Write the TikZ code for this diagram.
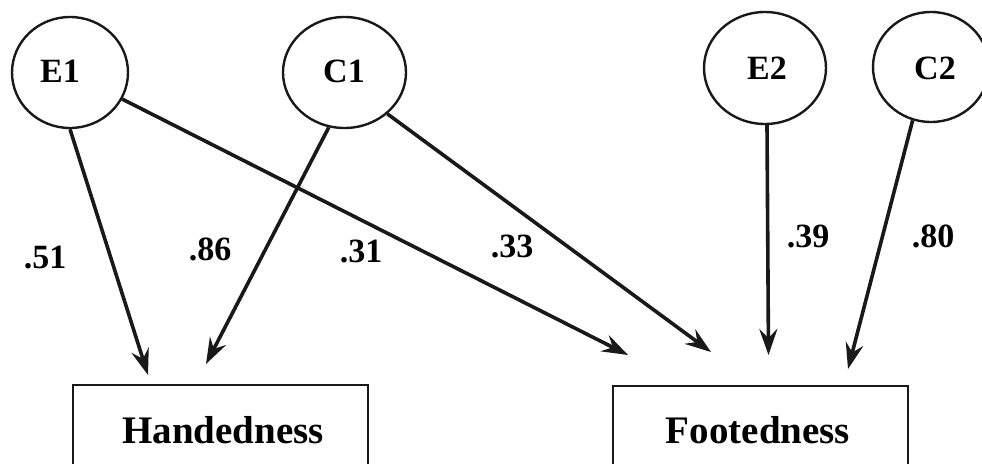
\documentclass[tikz,border=0pt]{standalone}
\usepackage{fontspec}
\setmainfont{Liberation Serif}
\usetikzlibrary{arrows.meta,shapes.geometric}
\begin{document}
\begin{tikzpicture}[x=1pt,y=-1pt,
  latent/.style={draw=black!90,line width=2.4pt,ellipse,inner sep=0pt},
  obsbox/.style={draw=black!90,line width=2.6pt,rectangle,inner sep=0pt,minimum width=295pt,minimum height=160pt},
  lbl/.style={font=\fontsize{34}{40}\selectfont\bfseries,inner sep=0pt,anchor=base},
  boxtxt/.style={font=\fontsize{39}{46}\selectfont\bfseries,inner sep=0pt,anchor=base},
  path/.style={draw=black!90,line width=3.6pt,-{Stealth[length=26pt,width=18pt,inset=9pt]}}]
\useasboundingbox (0,0) rectangle (982,463);
\fill[white] (0,0) rectangle (982,463);
% latent variables
\node[latent,minimum width=116pt,minimum height=111pt] (E1) at (70,72.5) {};
\node[latent,minimum width=123pt,minimum height=111pt] (C1) at (344.5,72.5) {};
\node[latent,minimum width=122pt,minimum height=112pt] (E2) at (765,68) {};
\node[latent,minimum width=116pt,minimum height=110pt] (C2) at (931,67) {};
\node[lbl,anchor=center] (E1t) at (60,71) {E1};
\node[lbl,anchor=center] (C1t) at (344,71) {C1};
\node[lbl,anchor=center] (E2t) at (767,68) {E2};
\node[lbl,anchor=center] (C2t) at (935,68) {C2};
% observed variables
\node[obsbox] (H) at (220.5,465) {};
\node[obsbox] (F) at (760.5,466) {};
\node[boxtxt] (Ht) at (223,443) {Handedness};
\node[boxtxt] (Ft) at (758,443) {Footedness};
% arrow tips
\coordinate (h1) at (148,375);
\coordinate (h2) at (206,364);
\coordinate (f1) at (628,355);
\coordinate (f2) at (711,352);
\coordinate (f3) at (768.5,355);
\coordinate (f4) at (848,369);
% paths
\draw[path] (E1.-90) -- (h1);
\draw[path] (C1.-106) -- (h2);
\draw[path] (E1.-27) -- (f1);
\draw[path] (C1.-44) -- (f2);
\draw[path] (E2.-88) -- (f3);
\draw[path] (C2.-109) -- (f4);
% coefficients
\node[lbl] (l51) at (45,268) {.51};
\node[lbl] (l86) at (210,260) {.86};
\node[lbl] (l31) at (361,262) {.31};
\node[lbl] (l33) at (512,257) {.33};
\node[lbl] (l39) at (808,247) {.39};
\node[lbl] (l80) at (933,247) {.80};
\end{tikzpicture}
\end{document}
